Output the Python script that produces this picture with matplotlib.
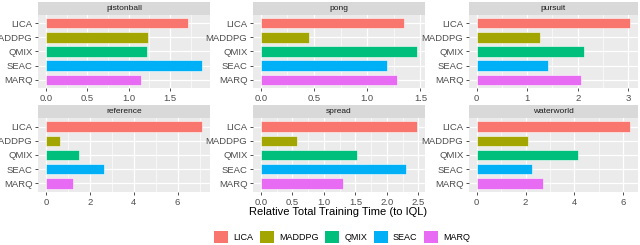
import matplotlib
matplotlib.use("Agg")
import matplotlib.pyplot as plt
from matplotlib.patches import Patch
import numpy as np

plt.rcParams['font.family'] = ['Liberation Sans', 'DejaVu Sans']

methods = ["LICA", "MADDPG", "QMIX", "SEAC", "MARQ"]
colors = ["#F8766D", "#A3A500", "#00BF7D", "#00B0F6", "#E76BF3"]

envs = ["pistonball", "pong", "pursuit", "reference", "spread", "waterworld"]
pistonball = [1.72, 1.24, 1.22, 1.89, 1.15]
pong = [1.35, 0.45, 1.47, 1.19, 1.28]
pursuit = [3.04, 1.25, 2.13, 1.41, 2.06]
reference = [7.12, 0.64, 1.49, 2.65, 1.22]
spread = [2.48, 0.58, 1.53, 2.30, 1.30]
waterworld = [6.29, 2.12, 4.13, 2.27, 2.72]
values = [pistonball, pong, pursuit, reference, spread, waterworld]
ticks = [[0.0, 0.5, 1.0, 1.5], [0.0, 0.5, 1.0, 1.5], [0, 1, 2, 3],
         [0, 2, 4, 6], [0.0, 0.5, 1.0, 1.5, 2.0, 2.5], [0, 2, 4, 6]]
ticklabels = [["0.0", "0.5", "1.0", "1.5"], ["0.0", "0.5", "1.0", "1.5"], ["0", "1", "2", "3"],
              ["0", "2", "4", "6"], ["0.0", "0.5", "1.0", "1.5", "2.0", "2.5"], ["0", "2", "4", "6"]]

W, H = 640, 245
fig = plt.figure(figsize=(W / 100, H / 100), dpi=100)

cols = [(38, 210), (253, 425), (469, 638)]
rows = [(2, 15, 88), (105, 118, 192)]  # strip top, panel top, panel bottom

for i, env in enumerate(envs):
    r, c = divmod(i, 3)
    x0, x1 = cols[c]
    st, pt, pb = rows[r]
    ax = fig.add_axes([x0 / W, 1 - pb / H, (x1 - x0) / W, (pb - pt) / H])
    sax = fig.add_axes([x0 / W, 1 - pt / H, (x1 - x0) / W, (pt - st) / H])
    sax.set_facecolor("#D9D9D9")
    sax.set_xticks([]); sax.set_yticks([])
    for s in sax.spines.values():
        s.set_visible(False)
    sax.text(0.5, 0.5, env, ha="center", va="center", fontsize=6.0, color="#1A1A1A",
             transform=sax.transAxes)

    ax.set_facecolor("#EBEBEB")
    vals = values[i]
    ypos = np.arange(len(methods))[::-1] + 1
    ax.barh(ypos, vals, height=0.72, color=colors, edgecolor="white", linewidth=0.4, zorder=3)
    vmax = max(vals)
    ax.set_ylim(0.4, 5.6)
    tk = ticks[i]
    ax.set_xticks(tk)
    ax.set_xticklabels(ticklabels[i])
    step = tk[1] - tk[0]
    minor = [t + step / 2 for t in tk[:]] + [tk[0] - step / 2]
    ax.set_xticks(minor, minor=True)
    ax.set_yticks(ypos)
    ax.set_yticklabels(methods)
    ax.grid(True, which="major", color="white", linewidth=0.9, zorder=0)
    ax.grid(True, which="minor", axis="x", color="white", linewidth=0.45, zorder=0)
    ax.set_axisbelow(True)
    for s in ax.spines.values():
        s.set_visible(False)
    ax.tick_params(which="major", length=2.5, width=0.6, color="#333333", labelsize=6.8,
                   labelcolor="#4D4D4D", pad=1.5)
    ax.tick_params(which="minor", length=0)
    ax.set_xlim(-0.05 * vmax, vmax * 1.05)

fig.text(338 / W, 1 - 212 / H, "Relative Total Training Time (to IQL)", ha="center", va="center",
         fontsize=8, color="black")

handles = [Patch(facecolor=c, edgecolor="none", label=m) for m, c in zip(methods, colors)]
fig.legend(handles=handles, loc="center", bbox_to_anchor=(342 / W, 1 - 237 / H), ncol=5,
           frameon=False, fontsize=6.5, handlelength=1.55, handleheight=1.55,
           columnspacing=0.7, handletextpad=0.6)

fig.savefig("out.png", dpi=100)
